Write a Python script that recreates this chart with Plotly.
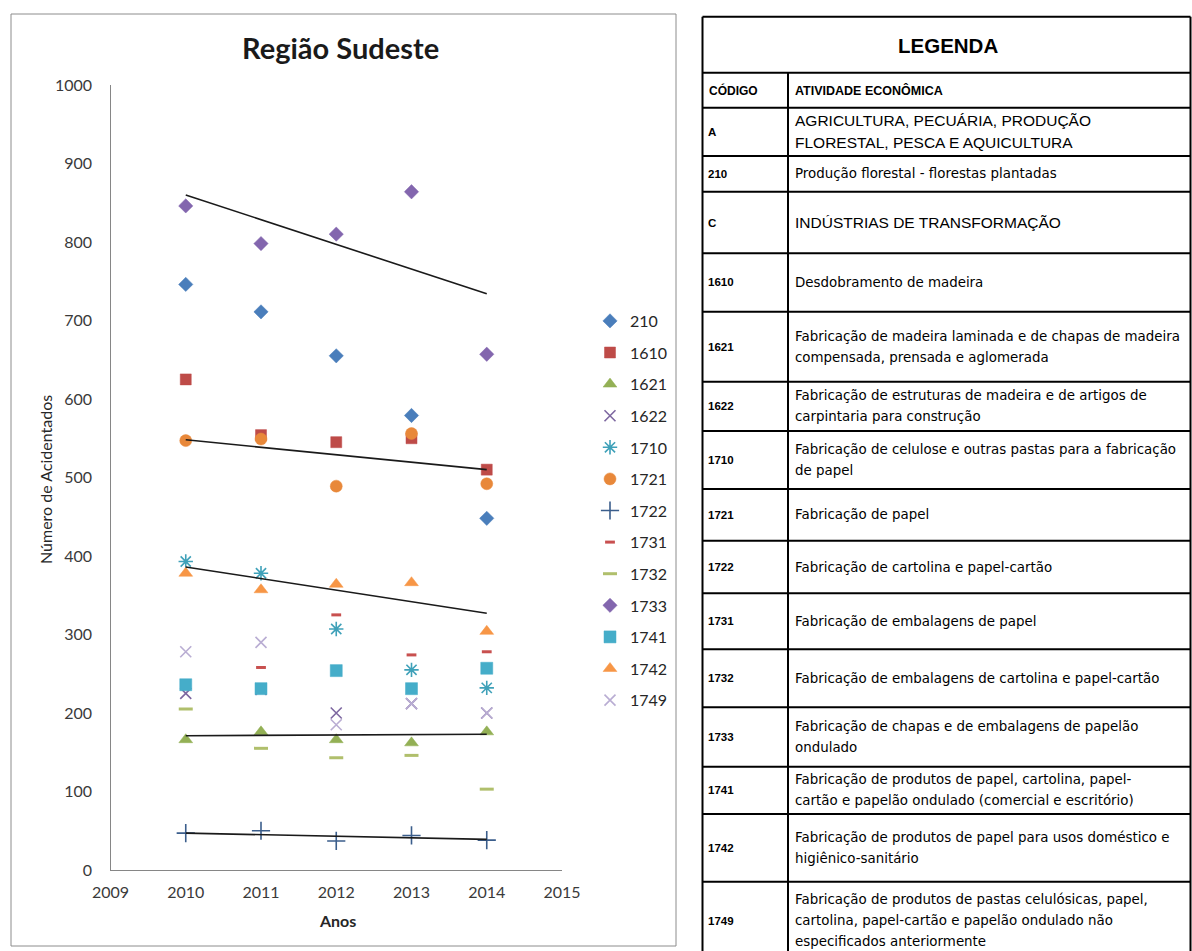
import plotly.graph_objects as go

# ---- chart data: accidents per economic activity code, Southeast region ----
years = [2010, 2011, 2012, 2013, 2014]

codes = ["210", "1610", "1621", "1622", "1710", "1721", "1722",
         "1731", "1732", "1733", "1741", "1742", "1749"]

v210 = [746, 711, 655, 579, 448]
v1610 = [625, 554, 545, 550, 510]
v1621 = [166, 176, 166, 162, 176]
v1622 = [225, 230, 200, 212, 200]
v1710 = [393, 378, 307, 255, 232]
v1721 = [547, 549, 489, 556, 492]
v1722 = [47, 50, 37, 44, 38]
v1731 = [240, 258, 325, 274, 278]
v1732 = [205, 155, 143, 146, 103]
v1733 = [846, 798, 810, 864, 657]
v1741 = [236, 231, 254, 231, 257]
v1742 = [378, 357, 364, 366, 304]
v1749 = [278, 290, 185, 212, 200]

# linear trend lines (value at first and last year)
trend_codes = ["1733", "1721", "1742", "1621", "1722"]
trend_first = [860, 548, 386, 171, 47]
trend_last = [734, 510, 327, 173, 39]

# ---- legend table content ----
table_codes = ["A", "210", "C", "1610", "1621", "1622", "1710", "1721",
               "1722", "1731", "1732", "1733", "1741", "1742", "1749"]
table_desc = [
    ["AGRICULTURA, PECUÁRIA, PRODUÇÃO", "FLORESTAL, PESCA E AQUICULTURA"],
    ["Produção florestal - florestas plantadas"],
    ["INDÚSTRIAS DE TRANSFORMAÇÃO"],
    ["Desdobramento de madeira"],
    ["Fabricação de madeira laminada e de chapas de madeira",
     "compensada, prensada e aglomerada"],
    ["Fabricação de estruturas de madeira e de artigos de",
     "carpintaria para construção"],
    ["Fabricação de celulose e outras pastas para a fabricação",
     "de papel"],
    ["Fabricação de papel"],
    ["Fabricação de cartolina e papel-cartão"],
    ["Fabricação de embalagens de papel"],
    ["Fabricação de embalagens de cartolina e papel-cartão"],
    ["Fabricação de chapas e de embalagens de papelão", "ondulado"],
    ["Fabricação de produtos de papel, cartolina, papel-",
     "cartão e papelão ondulado (comercial e escritório)"],
    ["Fabricação de produtos de papel para usos doméstico e",
     "higiênico-sanitário"],
    ["Fabricação de produtos de pastas celulósicas, papel,",
     "cartolina, papel-cartão e papelão ondulado não",
     "especificados anteriormente"],
]
section_codes = ["A", "C"]

series = {
    "210": v210, "1610": v1610, "1621": v1621, "1622": v1622,
    "1710": v1710, "1721": v1721, "1722": v1722, "1731": v1731,
    "1732": v1732, "1733": v1733, "1741": v1741, "1742": v1742,
    "1749": v1749,
}

# marker style per series: (symbol, size, colour, outline width for open symbols)
styles = {
    "210": ("diamond", 11, "#4A7EBB", 0),
    "1610": ("square", 11, "#BE4B48", 0),
    "1621": ("triangle-up", 12, "#93B055", 0),
    "1622": ("x-thin-open", 11, "#7D67A0", 1.6),
    "1710": ("asterisk-open", 12, "#3FA1B9", 1.6),
    "1721": ("circle", 12, "#E8883A", 0),
    "1722": ("cross-thin-open", 13, "#3B5E8C", 1.6),
    "1731": ("line-ew-open", 7, "#C8504F", 3),
    "1732": ("line-ew-open", 10, "#B0BF6C", 3),
    "1733": ("diamond", 11, "#8366AE", 0),
    "1741": ("square", 12, "#45ADC9", 0),
    "1742": ("triangle-up", 12, "#F79646", 0),
    "1749": ("x-thin-open", 11, "#B9ADD3", 1.6),
}

W, H = 1192, 951


def px(x):
    return x / W


def py(y):
    return 1 - y / H


FONT = "Lato, 'Open Sans', sans-serif"

fig = go.Figure()

for code in codes:
    sym, size, color, lw = styles[code]
    marker = dict(symbol=sym, size=size, color=color)
    if lw:
        marker["line"] = dict(color=color, width=lw)
    else:
        marker["line"] = dict(color=color, width=0.5)
    fig.add_trace(go.Scatter(
        x=years, y=series[code], mode="markers", name=code,
        legendgroup=code, marker=marker, hoverinfo="x+y+name",
    ))

for code, a, b in zip(trend_codes, trend_first, trend_last):
    fig.add_trace(go.Scatter(
        x=[years[0], years[-1]], y=[a, b], mode="lines",
        line=dict(color="#1a1a1a", width=1.6), showlegend=False,
        hoverinfo="skip",
    ))

shapes = []
annotations = []


def note(text, x, y, size, family=FONT, color="#1a1a1a", xanchor="center", **kw):
    annotations.append(dict(text=text, xref="paper", yref="paper",
                            x=px(x), y=py(y), xanchor=xanchor, yanchor="middle",
                            showarrow=False,
                            font=dict(family=family, size=size, color=color), **kw))


def hline(x0, x1, y, line):
    shapes.append(dict(type="line", xref="paper", yref="paper",
                       x0=px(x0), x1=px(x1), y0=py(y), y1=py(y), line=line))


def vline(x, y0, y1, line):
    shapes.append(dict(type="line", xref="paper", yref="paper",
                       x0=px(x), x1=px(x), y0=py(y0), y1=py(y1), line=line))


# chart frame
shapes.append(dict(type="rect", xref="paper", yref="paper",
                   x0=px(11), x1=px(676), y0=py(946), y1=py(14),
                   line=dict(color="#8c8c8c", width=1)))

note("<b>Região Sudeste</b>", 340, 47, 29)
note("Número de Acidentados", 45, 480, 16, color="#262626", textangle=-90)
note("<b>Anos</b>", 337, 920, 16, color="#262626")

# ---- legend table ----
T_LEFT, T_COL, T_RIGHT = 702.5, 788, 1190.5
T_TOP, T_HEAD, T_SUB = 16.7, 72.7, 107.7
row_bounds = [107.7, 156, 191.7, 253.3, 311.7, 381.7, 431, 489, 540.7,
              593.3, 649.3, 707.3, 766.7, 814, 881.7, 960]
LINE = dict(color="black", width=2)

hline(T_LEFT, T_RIGHT, T_TOP, LINE)
hline(T_LEFT, T_RIGHT, T_HEAD, LINE)
for yb in row_bounds[:-1]:
    hline(T_LEFT, T_RIGHT, yb, LINE)
vline(T_LEFT, T_TOP, H + 5, LINE)
vline(T_RIGHT, T_TOP, H + 5, LINE)
vline(T_COL, T_HEAD, H + 5, LINE)

TFONT = "'DejaVu Sans', sans-serif"
HFONT = "'Liberation Sans', Arial, sans-serif"

note("<b>LEGENDA</b>", 948, 45, 20.5, family=HFONT, color="black")
note("<b>CÓDIGO</b>", 707, 90.5, 12, family=HFONT, color="black", xanchor="left")
note("<b>ATIVIDADE ECONÔMICA</b>", 793, 90.5, 12.5, family=HFONT, color="black",
     xanchor="left")

for i, (code, lines) in enumerate(zip(table_codes, table_desc)):
    yc = (row_bounds[i] + row_bounds[i + 1]) / 2
    if i == len(table_codes) - 1:
        yc = 920.8
    note("<b>%s</b>" % code, 706, yc, 11.5, family=HFONT, color="black", xanchor="left")
    section = code in section_codes
    step = 22 if section else 21
    n = len(lines)
    for j, line in enumerate(lines):
        yl = yc + (j - (n - 1) / 2) * step
        note(line, 793, yl, 15.5 if section else 13.4,
             family=HFONT if section else TFONT, color="black", xanchor="left")

axis_font = dict(family=FONT, size=16, color="#3a3a3a")

fig.update_layout(
    width=W, height=H, autosize=False,
    margin=dict(l=0, r=0, t=0, b=0, pad=0, autoexpand=False),
    paper_bgcolor="white", plot_bgcolor="white",
    font=dict(family=FONT),
    xaxis=dict(domain=[px(110.5), px(562)], range=[2009, 2015],
               tickvals=[2009, 2010, 2011, 2012, 2013, 2014, 2015],
               showgrid=False, zeroline=False, showline=True, automargin=False,
               linecolor="#868686", linewidth=1.3, ticks="",
               tickfont=axis_font, ticklabelstandoff=8, fixedrange=True),
    yaxis=dict(domain=[py(870), py(85)], range=[0, 1000], dtick=100,
               showgrid=False, zeroline=False, showline=True, automargin=False,
               linecolor="#868686", linewidth=1.3, ticks="",
               tickfont=axis_font, ticklabelstandoff=14, fixedrange=True),
    legend=dict(x=px(590), y=py(304), xanchor="left", yanchor="top",
                font=dict(family=FONT, size=16, color="#262626"),
                tracegroupgap=7.8, bgcolor="rgba(0,0,0,0)", itemclick=False),
    showlegend=True,
    shapes=shapes,
    annotations=annotations,
)

fig.write_html("out.html", post_script="document.body.style.margin='0';")
